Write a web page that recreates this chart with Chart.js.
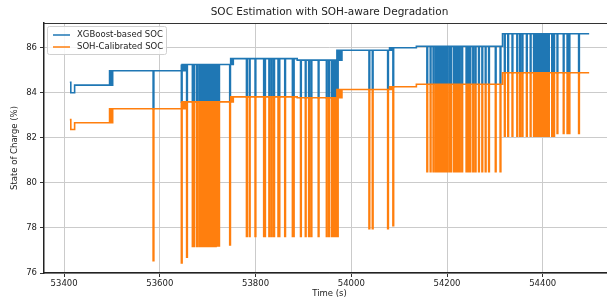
<!DOCTYPE html>
<html>
<head>
<meta charset="utf-8">
<title>SOC Estimation with SOH-aware Degradation</title>
<script src="https://cdn.jsdelivr.net/npm/chart.js"></script>
<style>
    html, body { margin: 0; padding: 0; background: #fff; overflow: hidden; }
    #wrap { width: 620px; height: 300px; }
</style>
</head>
<body>
<div id="wrap"><canvas id="chartSoc" width="620" height="300"></canvas></div>
<script>
// Step levels (time in s)
const levelTimes = [53412, 53414, 53422, 53495, 53645, 53748, 53887, 53970, 54080, 54136, 54316];
const xgbLevels  = [84.47, 84.00, 84.34, 84.98, 85.26, 85.52, 85.45, 85.89, 86.00, 86.07, 86.62];
const sohLevels  = [82.81, 82.37, 82.67, 83.29, 83.60, 83.82, 83.78, 84.15, 84.27, 84.38, 84.89];
const endTime = 54497;

// Short downward dips: time, visible bottom of XGBoost SOC (the rest hides
// behind the orange dip), bottom of SOH-calibrated SOC
const dipTimes = [
    53496, 53498, 53500,
    53586,
    53645, 53648, 53650, 53652, 53656,
    53668, 53671, 53677, 53682, 53685, 53689, 53692, 53694, 53696, 53698,
    53700, 53702, 53704, 53706, 53708, 53710, 53712, 53714, 53716, 53720, 53723,
    53746, 53750, 53752,
    53781, 53787, 53799, 53817, 53819, 53828, 53833, 53838, 53847, 53849,
    53861, 53877, 53879, 53894, 53904, 53911, 53916, 53931, 53948, 53953,
    53959, 53963, 53967,
    53971, 53974, 53976, 53979,
    54037, 54044, 54076, 54082, 54084, 54087,
    54158, 54165, 54171, 54176, 54179, 54183, 54185, 54188, 54190, 54193,
    54195, 54199, 54204, 54208, 54214, 54216, 54218, 54220, 54222, 54224,
    54226, 54231, 54240, 54242, 54244, 54246, 54248, 54254, 54259, 54266,
    54273, 54280, 54287, 54301, 54311,
    54320, 54327, 54336, 54346, 54352, 54357, 54366, 54374, 54381, 54384,
    54388, 54391, 54395, 54398, 54402, 54405, 54409, 54412, 54419, 54423,
    54430, 54443, 54451, 54455, 54475
];
const xgbDipLows = [
    84.34, 84.34, 84.34,
    83.29,
    83.60, 84.98, 84.98, 84.98, 83.60,
    83.60, 83.60, 83.60, 83.60, 83.60, 83.60, 83.60, 83.60, 83.60, 83.60,
    83.60, 83.60, 83.60, 83.60, 83.60, 83.60, 83.60, 83.60, 83.60, 83.60, 83.60,
    83.60, 85.26, 85.26,
    83.82, 83.82, 83.82, 83.82, 83.82, 83.82, 83.82, 83.82, 83.82, 83.82,
    83.82, 83.82, 83.82, 83.78, 83.78, 83.78, 83.78, 83.78, 83.78, 83.78,
    83.78, 83.78, 83.78,
    84.15, 85.45, 85.45, 85.45,
    84.15, 84.15, 84.15, 85.89, 85.89, 84.27,
    84.38, 84.38, 84.38, 84.38, 84.38, 84.38, 84.38, 84.38, 84.38, 84.38,
    84.38, 84.38, 84.38, 84.38, 84.38, 84.38, 84.38, 84.38, 84.38, 84.38,
    84.38, 84.38, 84.38, 84.38, 84.38, 84.38, 84.38, 84.38, 84.38, 84.38,
    84.38, 84.38, 84.38, 84.38, 84.38,
    84.89, 84.89, 84.89, 84.89, 84.89, 84.89, 84.89, 84.89, 84.89, 84.89,
    84.89, 84.89, 84.89, 84.89, 84.89, 84.89, 84.89, 84.89, 84.89, 84.89,
    84.89, 84.89, 84.89, 84.89, 84.89
];
const sohDipLows = [
    82.67, 82.67, 82.67,
    76.55,
    76.45, 83.29, 83.29, 83.29, 76.7,
    77.18, 77.18, 77.18, 77.18, 77.18, 77.18, 77.18, 77.18, 77.18, 77.18,
    77.18, 77.18, 77.18, 77.18, 77.18, 77.18, 77.18, 77.18, 77.18, 77.2, 77.2,
    77.25, 83.60, 83.60,
    77.62, 77.62, 77.62, 77.62, 77.62, 77.62, 77.62, 77.62, 77.62, 77.62,
    77.62, 77.62, 77.62, 77.62, 77.62, 77.62, 77.62, 77.62, 77.62, 77.62,
    77.62, 77.62, 77.62,
    77.62, 83.78, 83.78, 83.78,
    77.97, 77.97, 77.97, 84.15, 84.15, 78.1,
    80.5, 80.5, 80.5, 80.5, 80.5, 80.5, 80.5, 80.5, 80.5, 80.5,
    80.5, 80.5, 80.5, 80.5, 80.5, 80.5, 80.5, 80.5, 80.5, 80.5,
    80.5, 80.5, 80.5, 80.5, 80.5, 80.5, 80.5, 80.5, 80.5, 80.5,
    80.5, 80.5, 80.5, 80.5, 80.5,
    82.07, 82.07, 82.07, 82.07, 82.07, 82.07, 82.07, 82.07, 82.07, 82.07,
    82.07, 82.07, 82.07, 82.07, 82.07, 82.07, 82.07, 82.07, 82.07, 82.07,
    82.2, 82.2, 82.2, 82.2, 82.2
];

const xTicks = [53400, 53600, 53800, 54000, 54200, 54400];
const yTicks = [76, 78, 80, 82, 84, 86];

const dipLen = 1.5; // seconds a dip stays at its bottom
const FONT = 'DejaVu Sans';

function levelAt(levels, t) {
    let v = levels[0];
    for (let i = 0; i < levelTimes.length; i++) {
        if (levelTimes[i] <= t) v = levels[i];
    }
    return v;
}

function buildSeries(levels, lows) {
    const pts = levelTimes.map((t, i) => ({ x: t, y: levels[i] }));
    dipTimes.forEach((t, i) => {
        pts.push({ x: t, y: lows[i] });
        pts.push({ x: t + dipLen, y: levelAt(levels, t + dipLen) });
    });
    pts.push({ x: endTime, y: levels[levels.length - 1] });
    pts.sort((a, b) => a.x - b.x);
    return pts;
}

// matplotlib-like legend box + top frame line
const legendBox = {
    id: 'legendBox',
    afterDraw(chart) {
        const { ctx, chartArea } = chart;
        ctx.save();
        ctx.strokeStyle = '#333';
        ctx.lineWidth = 1;
        ctx.beginPath();
        ctx.moveTo(chartArea.left, chartArea.top + 0.5);
        ctx.lineTo(chartArea.right, chartArea.top + 0.5);
        ctx.stroke();

        const x = chartArea.left + 3, y = chartArea.top + 3, w = 119, h = 28;
        ctx.fillStyle = 'rgba(255,255,255,0.85)';
        ctx.strokeStyle = '#d0d0d0';
        ctx.beginPath();
        ctx.roundRect(x + 0.5, y + 0.5, w, h, 2);
        ctx.fill();
        ctx.stroke();

        const items = [
            { label: 'XGBoost-based SOC', color: '#1f77b4' },
            { label: 'SOH-Calibrated SOC', color: '#ff7f0e' }
        ];
        ctx.font = '8.5px "' + FONT + '"';
        ctx.textBaseline = 'middle';
        items.forEach((it, i) => {
            const ly = y + 9 + i * 12;
            ctx.strokeStyle = it.color;
            ctx.lineWidth = 1.5;
            ctx.beginPath();
            ctx.moveTo(x + 6, ly);
            ctx.lineTo(x + 23, ly);
            ctx.stroke();
            ctx.fillStyle = '#222';
            ctx.fillText(it.label, x + 30, ly);
        });
        ctx.restore();
    }
};

function initSocChart() {
    const ctx = document.getElementById('chartSoc');
    new Chart(ctx, {
        type: 'line',
        data: {
            datasets: [{
                label: 'XGBoost-based SOC',
                data: buildSeries(xgbLevels, xgbDipLows),
                borderColor: '#1f77b4',
                borderWidth: 1.6,
                pointRadius: 0,
                stepped: true,
                order: 2
            }, {
                label: 'SOH-Calibrated SOC',
                data: buildSeries(sohLevels, sohDipLows),
                borderColor: '#ff7f0e',
                borderWidth: 1.6,
                pointRadius: 0,
                stepped: true,
                order: 1
            }]
        },
        options: {
            responsive: false,
            animation: false,
            devicePixelRatio: 1,
            layout: { padding: { left: 0, right: 5, top: 0, bottom: 0 } },
            plugins: {
                legend: { display: false },
                tooltip: { enabled: false },
                title: {
                    display: true,
                    fullSize: false,
                    text: 'SOC Estimation with SOH-aware Degradation',
                    color: '#222',
                    font: { family: FONT, size: 10.5, weight: 'normal' },
                    padding: { top: 6, bottom: 4.4 }
                }
            },
            scales: {
                x: {
                    type: 'linear',
                    min: 53358,
                    max: 54551,
                    afterFit: (s) => { s.height = 27; },
                    afterBuildTicks: (s) => { s.ticks = xTicks.map(v => ({ value: v })); },
                    ticks: {
                        color: '#222',
                        font: { family: FONT, size: 8.5 },
                        padding: 2,
                        maxRotation: 0,
                        callback: (v) => String(v)
                    },
                    grid: { color: '#cbcbcb', lineWidth: 1, tickColor: '#333', tickLength: 4 },
                    border: { color: '#222', width: 1.5 },
                    title: {
                        display: true,
                        text: 'Time (s)',
                        color: '#222',
                        font: { family: FONT, size: 8.5 },
                        padding: { top: 0, bottom: 1 }
                    }
                },
                y: {
                    min: 76,
                    max: 87.1,
                    afterFit: (s) => { s.width = 44; },
                    afterBuildTicks: (s) => { s.ticks = yTicks.map(v => ({ value: v })); },
                    ticks: {
                        color: '#222',
                        font: { family: FONT, size: 8.5 },
                        padding: 3,
                        callback: (v) => String(v)
                    },
                    grid: { color: '#cbcbcb', lineWidth: 1, tickColor: '#333', tickLength: 4 },
                    border: { color: '#222', width: 1.5 },
                    title: {
                        display: true,
                        text: 'State of Charge (%)',
                        color: '#222',
                        font: { family: FONT, size: 8.5 },
                        padding: { top: 10, bottom: 0 }
                    }
                }
            }
        },
        plugins: [legendBox]
    });
}

document.addEventListener('DOMContentLoaded', initSocChart);
</script>
</body>
</html>
